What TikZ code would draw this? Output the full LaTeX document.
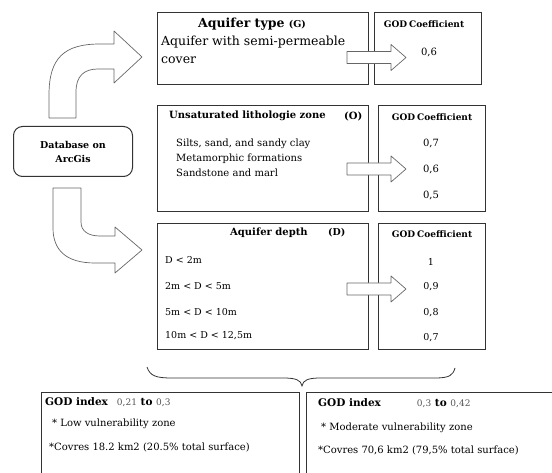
\documentclass[tikz,border=0pt]{standalone}
\usepackage{fontspec}
\setmainfont{DejaVu Serif}
\definecolor{linec}{HTML}{333333}
\definecolor{arrc}{HTML}{666666}
\definecolor{numc}{HTML}{555555}
\tikzset{
  frame/.style={draw=linec, line width=1pt, anchor=north west, inner sep=0pt},
  txt/.style={anchor=west, inner sep=0pt, text=black},
  ctxt/.style={anchor=center, inner sep=0pt, text=black},
  bigarrow/.style={draw=arrc, fill=white, line width=0.7pt, line join=round},
  pics/smarrow/.style={code={
    \draw[bigarrow] (0,-6) -- (44,-6) -- (44,-13) -- (59,0) -- (44,13) -- (44,6) -- (0,6) -- cycle;
  }}
}
\begin{document}
\begin{tikzpicture}[x=1pt,y=-1pt]
\useasboundingbox (0,0) rectangle (552,473);
\clip (0,0) rectangle (552,473);

% boxes
\node[frame, minimum width=211pt, minimum height=72pt] (typebox) at (157,12) {};
\node[frame, minimum width=107pt, minimum height=72pt] (coef1) at (374,12) {};
\node[frame, minimum width=211pt, minimum height=106pt] (lithbox) at (157,105) {};
\node[frame, minimum width=107pt, minimum height=106pt] (coef2) at (378,105) {};
\node[frame, minimum width=211pt, minimum height=126pt] (depthbox) at (157,223) {};
\node[frame, minimum width=107pt, minimum height=126pt] (coef3) at (378,223) {};
\node[draw=linec, line width=1pt, rounded corners=9pt, minimum width=119pt, minimum height=50pt, anchor=north west, inner sep=0pt] (db) at (13,126) {};

% bottom boxes (open at the bottom)
\draw[linec, line width=1pt] (41,480) -- (41,392) -- (299,392) -- (299,480);
\draw[linec, line width=1pt] (306,480) -- (306,392) -- (560,392);

% big curved arrows
\draw[bigarrow] (49,118) -- (49,95) .. controls (49,58) and (64,44) .. (100,44) -- (114,44) -- (114,31)
  -- (142,57) -- (114,83) -- (114,69) -- (98,69) .. controls (84,69) and (76,76) .. (76,92) -- (76,118) -- cycle;
\draw[bigarrow] (53,188) -- (81,188) -- (81,222) .. controls (81,231) and (88,236) .. (100,236) -- (115,236)
  -- (115,227) -- (142,250) -- (115,273) -- (115,263) -- (95,263) .. controls (66,263) and (53,250) .. (53,228) -- cycle;

% small block arrows
\pic at (347,57.5) {smarrow};
\pic at (347,169) {smarrow};
\pic at (347,289) {smarrow};

% brace
\draw[linec, line width=0.8pt] (147,367) .. controls (150,376) and (156,378) .. (172,378) -- (283,378)
  .. controls (296,378) and (301,380) .. (302,386) .. controls (303,380) and (308,378) .. (321,378)
  -- (435,378) .. controls (450,378) and (453,375) .. (455,368);

% texts: aquifer type
\node[txt, font=\bfseries\fontsize{12.5}{14}\selectfont] (t1) at (198,24) {Aquifer type \fontsize{9.5}{11}\selectfont(G)};
\node[txt, font=\fontsize{12.5}{14}\selectfont] (t1a) at (161,42) {Aquifer with semi-permeable};
\node[txt, font=\fontsize{12.5}{14}\selectfont] (t1b) at (161,60) {cover};
\node[ctxt, font=\bfseries\fontsize{9}{11}\selectfont] (g1) at (424,24) {GOD\hspace{2pt}Coefficient};
\node[ctxt, font=\fontsize{10}{11}\selectfont] (v1) at (429,52) {0,6};

% lithology
\node[txt, font=\bfseries\fontsize{10}{12}\selectfont] (t2) at (169,116) {Unsaturated lithologie zone};
\node[txt, font=\bfseries\fontsize{10}{12}\selectfont] (t2o) at (344,116) {(O)};
\node[txt, font=\fontsize{10}{11}\selectfont] (l1) at (176,144) {Silts, sand, and sandy clay};
\node[txt, font=\fontsize{10}{11}\selectfont] (l2) at (176,159) {Metamorphic formations};
\node[txt, font=\fontsize{10}{11}\selectfont] (l3) at (176,173) {Sandstone and marl};
\node[ctxt, font=\bfseries\fontsize{9}{11}\selectfont] (g2) at (432,117) {GOD\hspace{2pt}Coefficient};
\node[ctxt, font=\fontsize{10}{11}\selectfont] (v2a) at (431,143) {0,7};
\node[ctxt, font=\fontsize{10}{11}\selectfont] (v2b) at (431,169) {0,6};
\node[ctxt, font=\fontsize{10}{11}\selectfont] (v2c) at (431,195) {0,5};

% depth
\node[txt, font=\bfseries\fontsize{10}{12}\selectfont] (t3) at (230,233) {Aquifer depth};
\node[txt, font=\bfseries\fontsize{9.5}{12}\selectfont] (t3d) at (328,233) {(D)};
\node[txt, font=\fontsize{9.5}{11}\selectfont] (d1) at (165,260) {D < 2m};
\node[txt, font=\fontsize{9.5}{11}\selectfont] (d2) at (165,286) {2m < D < 5m};
\node[txt, font=\fontsize{9.5}{11}\selectfont] (d3) at (165,312) {5m < D < 10m};
\node[txt, font=\fontsize{9.5}{11}\selectfont] (d4) at (165,336) {10m < D < 12,5m};
\node[ctxt, font=\bfseries\fontsize{9}{11}\selectfont] (g3) at (432,234) {GOD\hspace{2pt}Coefficient};
\node[ctxt, font=\fontsize{9.5}{11}\selectfont] (v3a) at (431,262) {1};
\node[ctxt, font=\fontsize{9.5}{11}\selectfont] (v3b) at (431,287) {0,9};
\node[ctxt, font=\fontsize{9.5}{11}\selectfont] (v3c) at (431,313) {0,8};
\node[ctxt, font=\fontsize{9.5}{11}\selectfont] (v3d) at (431,338) {0,7};

% database
\node[ctxt, font=\bfseries\fontsize{9.5}{14}\selectfont, align=center] (dbt) at (db.center) {Database on\\ArcGis};

% bottom left
\node[txt, font=\bfseries\fontsize{10.5}{12}\selectfont] (b1) at (45,402) {GOD index\hspace{9pt}{\mdseries\color{numc}\fontsize{9}{11}\selectfont 0,21} to {\mdseries\color{numc}\fontsize{9}{11}\selectfont 0,3}};
\node[txt, font=\fontsize{10}{12}\selectfont] (b1a) at (52,424) {* Low vulnerability zone};
\node[txt, font=\fontsize{10}{12}\selectfont] (b1b) at (49,447) {*Covres 18.2 km2 (20.5\% total surface)};

% bottom right
\node[txt, font=\bfseries\fontsize{10.5}{12}\selectfont] (b2) at (318,403) {GOD index\hspace{36pt}{\mdseries\color{numc}\fontsize{9}{11}\selectfont 0,3} to {\mdseries\color{numc}\fontsize{9}{11}\selectfont 0,42}};
\node[txt, font=\fontsize{10}{12}\selectfont] (b2a) at (321,428) {* Moderate vulnerability zone};
\node[txt, font=\fontsize{10}{12}\selectfont] (b2b) at (318,450) {*Covres 70,6 km2 (79,5\% total surface)};
\end{tikzpicture}
\end{document}
